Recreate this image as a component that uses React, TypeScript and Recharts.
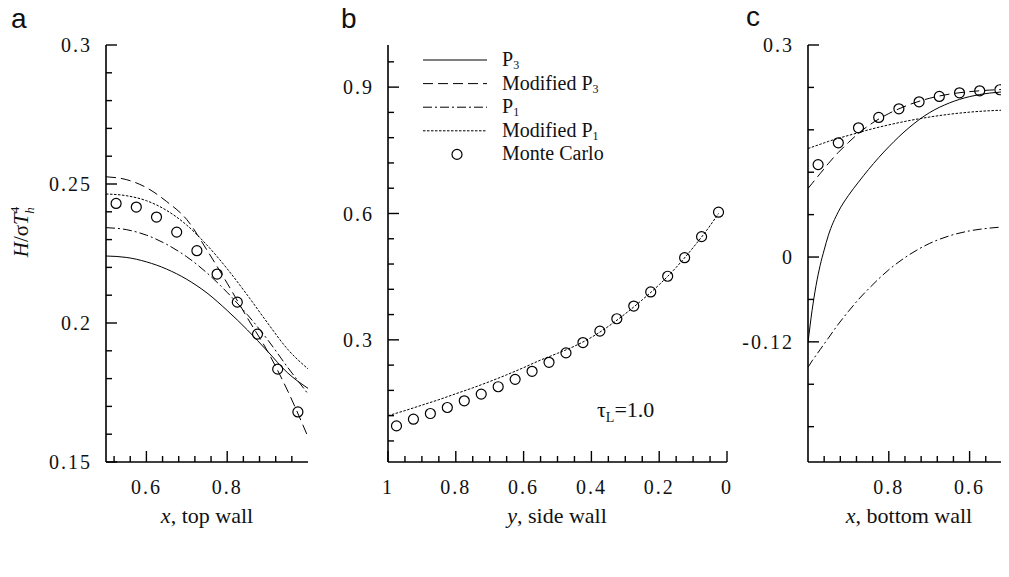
import React from "react";
import { ComposedChart, Line, Scatter, XAxis, YAxis, Legend } from "recharts";

const SERIF = "'Liberation Serif', 'Times New Roman', Times, serif";
const SANS = "'Liberation Sans', Arial, sans-serif";

// ---- panel a: top wall ----
const aX = [0.5, 0.55, 0.6, 0.65, 0.7, 0.75, 0.8, 0.85, 0.9, 0.95, 1.0];
const aP3 = [0.2241, 0.2236, 0.222, 0.2194, 0.2157, 0.2108, 0.2045, 0.1975, 0.1898, 0.182, 0.1765];
const aModP3 = [0.2526, 0.2516, 0.2487, 0.2437, 0.2372, 0.2262, 0.2143, 0.2018, 0.1898, 0.1755, 0.159];
const aP1 = [0.2343, 0.2336, 0.2316, 0.2283, 0.2238, 0.218, 0.211, 0.203, 0.194, 0.184, 0.1745];
const aModP1 = [0.2464, 0.2458, 0.244, 0.2405, 0.2352, 0.228, 0.2195, 0.21, 0.2, 0.1905, 0.1835];
const aMcX = [0.525, 0.575, 0.625, 0.675, 0.725, 0.775, 0.825, 0.875, 0.925, 0.975];
const aMcY = [0.243, 0.2417, 0.2381, 0.2327, 0.226, 0.2176, 0.2075, 0.196, 0.1834, 0.168];
const aTicksX = [0.52, 0.56, 0.6, 0.64, 0.68, 0.72, 0.76, 0.8, 0.84, 0.88, 0.92, 0.96];
const aLabelsX = [0.6, 0.8];
const aTicksY = [0.15, 0.16, 0.17, 0.18, 0.19, 0.2, 0.21, 0.22, 0.23, 0.24, 0.25, 0.26, 0.27, 0.28, 0.29, 0.3];
const aLabelsY = [0.15, 0.2, 0.25, 0.3];

// ---- panel b: side wall ----
const bX = [1.0, 0.95, 0.9, 0.85, 0.8, 0.75, 0.7, 0.65, 0.6, 0.55, 0.5, 0.45, 0.4, 0.35, 0.3, 0.25, 0.2, 0.15, 0.1, 0.05, 0.025];
const bModP1 = [0.12, 0.132, 0.145, 0.158, 0.172, 0.186, 0.201, 0.217, 0.234, 0.252, 0.268, 0.285, 0.306, 0.332, 0.362, 0.395, 0.431, 0.472, 0.519, 0.571, 0.6];
const bMcX = [0.975, 0.925, 0.875, 0.825, 0.775, 0.725, 0.675, 0.625, 0.575, 0.525, 0.475, 0.425, 0.375, 0.325, 0.275, 0.225, 0.175, 0.125, 0.075, 0.025];
const bMcY = [0.0957, 0.1116, 0.1251, 0.1394, 0.1553, 0.1712, 0.1887, 0.2062, 0.2253, 0.2467, 0.269, 0.2936, 0.3207, 0.3501, 0.3803, 0.4137, 0.451, 0.495, 0.545, 0.603];
const bTicksX = [1, 0.95, 0.9, 0.85, 0.8, 0.75, 0.7, 0.65, 0.6, 0.55, 0.5, 0.45, 0.4, 0.35, 0.3, 0.25, 0.2, 0.15, 0.1, 0.05, 0];
const bLabelsX = [1, 0.8, 0.6, 0.4, 0.2, 0];
const bTicksY = [0.06, 0.12, 0.18, 0.24, 0.3, 0.36, 0.42, 0.48, 0.54, 0.6, 0.66, 0.72, 0.78, 0.84, 0.9, 0.96];
const bLabelsY = [0.3, 0.6, 0.9];

// ---- panel c: bottom wall ----
const cX = [1.0, 0.99, 0.98, 0.97, 0.96, 0.95, 0.925, 0.9, 0.875, 0.85, 0.8, 0.75, 0.7, 0.65, 0.6, 0.55, 0.5];
const cP3 = [-0.121, -0.076, -0.04, -0.012, 0.01, 0.03, 0.064, 0.087, 0.106, 0.124, 0.156, 0.183, 0.204, 0.218, 0.227, 0.232, 0.234];
const cModP3 = [0.097, 0.104, 0.111, 0.118, 0.125, 0.132, 0.148, 0.162, 0.175, 0.186, 0.203, 0.2155, 0.2245, 0.2305, 0.234, 0.2362, 0.2372];
const cP1 = [-0.156, -0.147, -0.139, -0.131, -0.123, -0.115, -0.095, -0.077, -0.06, -0.045, -0.018, 0.003, 0.019, 0.03, 0.037, 0.041, 0.043];
const cModP1 = [0.1535, 0.1555, 0.1575, 0.1595, 0.1615, 0.1635, 0.168, 0.172, 0.176, 0.18, 0.187, 0.193, 0.198, 0.202, 0.205, 0.207, 0.208];
const cMcX = [0.975, 0.925, 0.875, 0.825, 0.775, 0.725, 0.675, 0.625, 0.575, 0.525];
const cMcY = [0.1308, 0.1616, 0.1828, 0.1975, 0.2097, 0.2196, 0.2272, 0.2324, 0.2352, 0.2367];
const cTicksX = [0.96, 0.92, 0.88, 0.84, 0.8, 0.76, 0.72, 0.68, 0.64, 0.6, 0.56, 0.52];
const cLabelsX = [0.8, 0.6];
const cTicksY = [-0.24, -0.18, -0.12, -0.06, 0, 0.06, 0.12, 0.18, 0.24, 0.3];
const cLabelsY = [-0.12, 0, 0.3];

const mk = (xs: number[], ys: number[]) => xs.map((x, i) => ({ x, y: ys[i] }));

const DASH = "10 5";
const DASHDOT = "9 3 2 3";
const DOT = "2.5 1.5";

const TM = 14; // gap between axis line and tick labels
const isIn = (list: number[], v: number) => list.some((l) => Math.abs(l - v) < 1e-9);
const serifText = { fontFamily: SERIF };

function yTick(labels: number[]) {
  return (p: any) => {
    const v = p.payload.value;
    const major = isIn(labels, v);
    const ax = p.x + TM;
    return (
      <g>
        <line x1={ax} x2={ax + (major ? 11 : 6)} y1={p.y} y2={p.y} stroke="#000" strokeWidth={1.4} />
        {major && (
          <text x={p.x} y={p.y} dy="0.36em" textAnchor="end" style={serifText} fontSize={20} letterSpacing={2} fill="#111">
            {String(v)}
          </text>
        )}
      </g>
    );
  };
}

function xTick(labels: number[]) {
  return (p: any) => {
    const v = p.payload.value;
    const major = isIn(labels, v);
    const ay = p.y - TM;
    return (
      <g>
        <line x1={p.x} x2={p.x} y1={ay} y2={ay - (major ? 11 : 6)} stroke="#000" strokeWidth={1.4} />
        {major && (
          <text x={p.x} y={ay + 32} textAnchor="middle" style={serifText} fontSize={20} letterSpacing={2} fill="#111">
            {String(v)}
          </text>
        )}
      </g>
    );
  };
}

const circle = (p: any) => <circle cx={p.cx} cy={p.cy} r={5} fill="none" stroke="#000" strokeWidth={1.2} />;

const axisLine = { stroke: "#000", strokeWidth: 1.6 };

function curve(data: { x: number; y: number }[], dash: string | undefined, name: string) {
  return (
    <Line
      key={name}
      name={name}
      data={data}
      dataKey="y"
      type="monotone"
      stroke="#000"
      strokeWidth={1}
      strokeDasharray={dash}
      dot={false}
      isAnimationActive={false}
    />
  );
}

const legendRows = [
  { label: "P", sub: "3", dash: "" },
  { label: "Modified P", sub: "3", dash: DASH },
  { label: "P", sub: "1", dash: DASHDOT },
  { label: "Modified P", sub: "1", dash: DOT },
  { label: "Monte Carlo", sub: "", dash: "mc" },
];

function LegendBox() {
  return (
    <svg width={270} height={126}>
      {legendRows.map((r, i) => {
        const y = 12 + i * 23.6;
        return (
          <g key={i}>
            {r.dash === "mc" ? (
              <circle cx={34} cy={y} r={5} fill="none" stroke="#000" strokeWidth={1.2} />
            ) : (
              <line x1={0} x2={64} y1={y} y2={y} stroke="#000" strokeWidth={1} strokeDasharray={r.dash || undefined} />
            )}
            <text x={79} y={y + 6} style={serifText} fontSize={20} fill="#111">
              {r.label}
              {r.sub && (
                <tspan fontSize={12} baselineShift="-25%">
                  {r.sub}
                </tspan>
              )}
            </text>
          </g>
        );
      })}
    </svg>
  );
}

export default function App() {
  return (
    <div style={{ position: "relative", width: 1009, height: 577, margin: -8, overflow: "hidden", background: "#fff" }}>
      {/* panel a */}
      <div style={{ position: "absolute", left: 0, top: 0 }}>
        <ComposedChart width={330} height={577} margin={{ top: 45, right: 22, bottom: 85, left: 0 }}>
          <XAxis dataKey="x" type="number" domain={[0.5, 1]} allowDataOverflow ticks={aTicksX} interval={0} height={30}
            axisLine={axisLine} tickLine={false} tickSize={0} tickMargin={TM} tick={xTick(aLabelsX)} />
          <YAxis dataKey="y" type="number" domain={[0.15, 0.3]} allowDataOverflow ticks={aTicksY} interval={0} width={106}
            axisLine={axisLine} tickLine={false} tickSize={0} tickMargin={TM} tick={yTick(aLabelsY)} />
          {curve(mk(aX, aP3), undefined, "P3")}
          {curve(mk(aX, aModP3), DASH, "Modified P3")}
          {curve(mk(aX, aP1), DASHDOT, "P1")}
          {curve(mk(aX, aModP1), DOT, "Modified P1")}
          <Scatter name="Monte Carlo" data={mk(aMcX, aMcY)} dataKey="y" shape={circle} isAnimationActive={false} />
        </ComposedChart>
      </div>

      {/* panel b */}
      <div style={{ position: "absolute", left: 300, top: 0 }}>
        <ComposedChart width={460} height={577} margin={{ top: 45, right: 33, bottom: 85, left: 0 }}>
          <XAxis dataKey="x" type="number" domain={[0, 1]} reversed allowDataOverflow ticks={bTicksX} interval={0} height={30}
            axisLine={axisLine} tickLine={false} tickSize={0} tickMargin={TM} tick={xTick(bLabelsX)} />
          <YAxis dataKey="y" type="number" domain={[0.01, 1]} allowDataOverflow ticks={bTicksY} interval={0} width={88}
            axisLine={axisLine} tickLine={false} tickSize={0} tickMargin={TM} tick={yTick(bLabelsY)} />
          {curve(mk(bX, bModP1), DOT, "Modified P1")}
          <Scatter name="Monte Carlo" data={mk(bMcX, bMcY)} dataKey="y" shape={circle} isAnimationActive={false} />
          <Legend layout="horizontal" verticalAlign="middle" align="center" content={() => <LegendBox />}
            wrapperStyle={{ left: 123, top: 48, width: 270, height: 126 }} />
        </ComposedChart>
      </div>

      {/* panel c */}
      <div style={{ position: "absolute", left: 740, top: 0 }}>
        <ComposedChart width={280} height={577} margin={{ top: 45, right: 10, bottom: 85, left: 0 }}>
          <XAxis dataKey="x" type="number" domain={[0.5, 1]} reversed allowDataOverflow ticks={cTicksX} interval={0} height={30}
            axisLine={axisLine} tickLine={false} tickSize={0} tickMargin={TM} tick={xTick(cLabelsX)} />
          <YAxis dataKey="y" type="number" domain={[-0.29, 0.3]} allowDataOverflow ticks={cTicksY} interval={0} width={68}
            axisLine={axisLine} tickLine={false} tickSize={0} tickMargin={TM} tick={yTick(cLabelsY)} />
          {curve(mk(cX, cP3), undefined, "P3")}
          {curve(mk(cX, cModP3), DASH, "Modified P3")}
          {curve(mk(cX, cP1), DASHDOT, "P1")}
          {curve(mk(cX, cModP1), DOT, "Modified P1")}
          <Scatter name="Monte Carlo" data={mk(cMcX, cMcY)} dataKey="y" shape={circle} isAnimationActive={false} />
        </ComposedChart>
      </div>

      {/* free text */}
      <svg width={1009} height={577} style={{ position: "absolute", left: 0, top: 0, pointerEvents: "none" }}>
        <g style={{ fontFamily: SANS }} fontSize={28} fill="#111">
          <text x={11} y={28}>a</text>
          <text x={341} y={28}>b</text>
          <text x={746} y={26}>c</text>
        </g>
        <g style={serifText} fontSize={22} fill="#111" textAnchor="middle">
          <text x={207} y={523}><tspan fontStyle="italic">x</tspan>, top wall</text>
          <text x={557} y={523}><tspan fontStyle="italic">y</tspan>, side wall</text>
          <text x={909} y={523}><tspan fontStyle="italic">x</tspan>, bottom wall</text>
        </g>
        <text x={597} y={417} style={serifText} fontSize={22} fill="#111">
          τ<tspan fontSize={14} dy={5}>L</tspan><tspan dy={-5}>=1.0</tspan>
        </text>
        <text transform="rotate(-90 28 232)" x={28} y={232} style={serifText} fontSize={21} fill="#111" textAnchor="middle">
          <tspan fontStyle="italic">H</tspan>/σ<tspan fontStyle="italic">T</tspan>
          <tspan fontSize={13} dy={-9}>4</tspan>
          <tspan fontSize={13} fontStyle="italic" dx={-7} dy={15}>h</tspan>
        </text>
      </svg>
    </div>
  );
}
